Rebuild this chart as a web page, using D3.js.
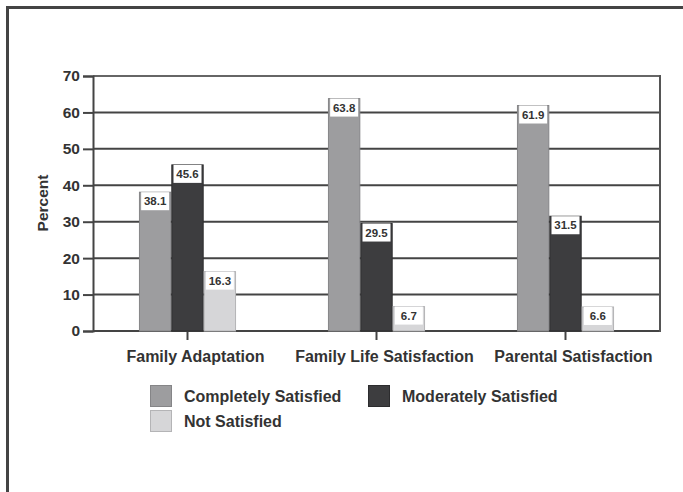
<!DOCTYPE html>
<html>
<head>
<meta charset="utf-8">
<script src="https://cdn.jsdelivr.net/npm/d3@7"></script>
<style>
  html, body { margin: 0; padding: 0; background: #fff; }
  svg { display: block; font-family: "Liberation Sans", Arial, sans-serif; font-weight: bold; }
</style>
</head>
<body>
<svg id="chart" width="683" height="492"></svg>
<script>
// Survey outcomes by satisfaction level (percent)
const categories = ["Family Adaptation", "Family Life Satisfaction", "Parental Satisfaction"];
const seriesNames = ["Completely Satisfied", "Moderately Satisfied", "Not Satisfied"];
const completely = [38.1, 63.8, 61.9];
const moderately = [45.6, 29.5, 31.5];
const notSatisfied = [16.3, 6.7, 6.6];
const yTicks = [0, 10, 20, 30, 40, 50, 60, 70];

const seriesValues = [completely, moderately, notSatisfied];
const fills = ["#9d9d9f", "#3d3d3f", "#d6d6d8"];
const strokes = ["#858587", "#2c2c2e", "#b4b4b6"];
const ink = "#333";

const svg = d3.select("#chart");

// outer frame (top and left edges)
svg.append("line").attr("x1", 7.5).attr("x2", 683).attr("y1", 7.5).attr("y2", 7.5)
  .attr("stroke", "#444").attr("stroke-width", 3);
svg.append("line").attr("x1", 7.5).attr("x2", 7.5).attr("y1", 6).attr("y2", 492)
  .attr("stroke", "#444").attr("stroke-width", 3);

const plotLeft = 93, plotRight = 660, plotTop = 76, plotBottom = 331;

const y = d3.scaleLinear().domain([0, 70]).range([plotBottom, plotTop]);
const x0 = d3.scaleBand().domain(categories).range([plotLeft, plotRight]).padding(0);
const x1 = d3.scaleBand().domain(seriesNames).range([0, x0.bandwidth()])
  .paddingInner(0).paddingOuter(1.42);

// horizontal grid lines
svg.append("g").selectAll("line").data(yTicks).join("line")
  .attr("x1", plotLeft).attr("x2", plotRight)
  .attr("y1", d => y(d)).attr("y2", d => y(d))
  .attr("stroke", d => d === 70 ? "#666" : "#444").attr("stroke-width", 2);

// right border of plot area
svg.append("line").attr("x1", plotRight).attr("x2", plotRight).attr("y1", y(70) - 1).attr("y2", y(0) + 1)
  .attr("stroke", "#555").attr("stroke-width", 2);

// y axis
const yAxis = d3.axisLeft(y).tickValues(yTicks).tickSize(10).tickPadding(3).tickFormat(d3.format("d"));
const gy = svg.append("g").attr("transform", `translate(${plotLeft},0)`).call(yAxis);
gy.select(".domain").attr("stroke", "#444").attr("stroke-width", 2);
gy.selectAll(".tick line").attr("stroke", "#444").attr("stroke-width", 2);
gy.selectAll(".tick text").attr("fill", ink).attr("font-size", 15.5)
  .attr("font-weight", "bold").attr("font-family", "Liberation Sans, Arial, sans-serif");

// x axis ticks under each category; labels sit slightly right of the tick
const xAxis = d3.axisBottom(x0).tickSize(9).tickPadding(11);
const gx = svg.append("g").attr("transform", `translate(0,${plotBottom})`).call(xAxis);
gx.select(".domain").remove();
gx.selectAll(".tick line").attr("stroke", "#444").attr("stroke-width", 2);
gx.selectAll(".tick text").attr("fill", ink).attr("font-size", 16)
  .attr("font-weight", "bold").attr("font-family", "Liberation Sans, Arial, sans-serif")
  .attr("dx", 8)
  .attr("dy", "0.71em");

// bars
const rows = [];
categories.forEach((c, i) => {
  seriesNames.forEach((s, j) => {
    rows.push({ cat: c, series: s, j, value: seriesValues[j][i] });
  });
});

const groups = svg.append("g");
const bars = groups.selectAll("g").data(rows).join("g")
  .attr("transform", d => `translate(${x0(d.cat) + x1(d.series)},0)`);

bars.append("rect")
  .attr("x", 0.5)
  .attr("width", x1.bandwidth() - 1)
  .attr("y", d => y(d.value))
  .attr("height", d => y(0) - y(d.value))
  .attr("fill", d => fills[d.j])
  .attr("stroke", d => strokes[d.j])
  .attr("stroke-width", 1);

// value label boxes sitting inside the top of each bar
const boxW = 28, boxH = 18;
bars.append("rect")
  .attr("x", (x1.bandwidth() - boxW) / 2)
  .attr("y", d => y(d.value))
  .attr("width", boxW)
  .attr("height", boxH)
  .attr("fill", "#fff");

bars.append("text")
  .attr("x", x1.bandwidth() / 2)
  .attr("y", d => y(d.value) + 13)
  .attr("text-anchor", "middle")
  .attr("font-size", 11.5)
  .attr("fill", ink)
  .text(d => d.value.toFixed(1));

// y axis title
svg.append("text")
  .attr("transform", `translate(48,203) rotate(-90)`)
  .attr("text-anchor", "middle")
  .attr("font-size", 15.5)
  .attr("fill", ink)
  .text("Percent");

// legend
const legendItems = [
  { name: seriesNames[0], j: 0, x: 150, y: 385 },
  { name: seriesNames[1], j: 1, x: 368, y: 385 },
  { name: seriesNames[2], j: 2, x: 150, y: 410 }
];
const lg = svg.append("g").selectAll("g").data(legendItems).join("g")
  .attr("transform", d => `translate(${d.x},${d.y})`);
lg.append("rect")
  .attr("x", 0.5).attr("y", 0.5).attr("width", 21).attr("height", 21)
  .attr("fill", d => fills[d.j]).attr("stroke", d => strokes[d.j]).attr("stroke-width", 1);
lg.append("text")
  .attr("x", 34).attr("y", 17)
  .attr("font-size", 16)
  .attr("fill", ink)
  .text(d => d.name);
</script>
</body>
</html>
